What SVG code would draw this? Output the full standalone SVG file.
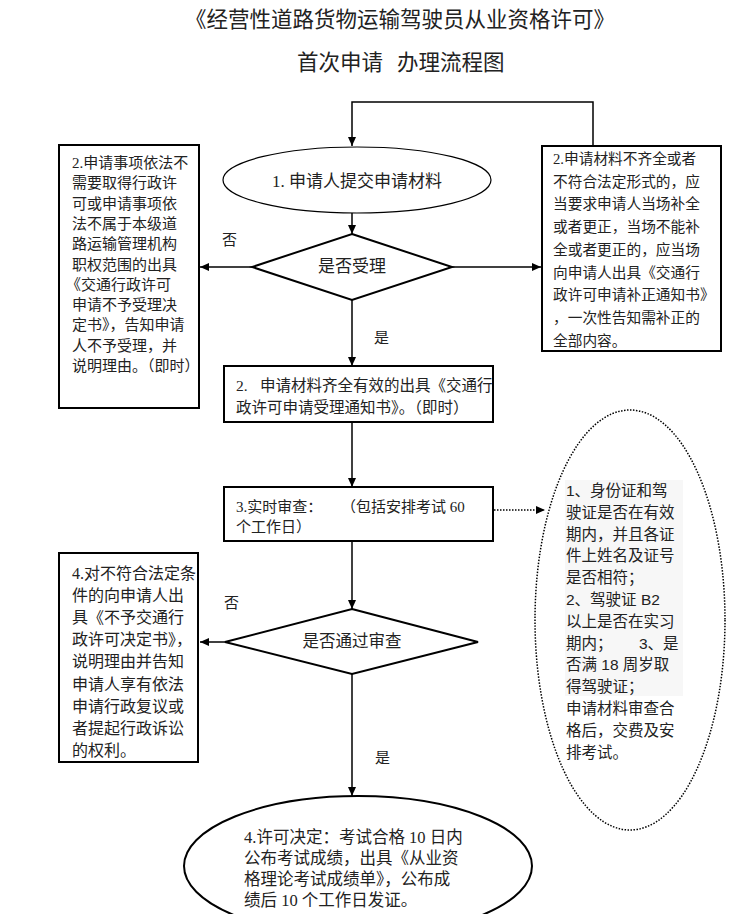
<svg xmlns="http://www.w3.org/2000/svg" width="745" height="914" viewBox="0 0 745 914">
<style>
.t{font-family:"Liberation Serif","Noto Sans CJK SC",serif;fill:#222;dominant-baseline:central}
.s{font-family:"Liberation Sans","Noto Sans CJK SC",sans-serif;fill:#222;dominant-baseline:central}
.title{font-family:"Noto Sans CJK SC",sans-serif;fill:#222;font-size:21.5px;dominant-baseline:central}
.box{fill:#fff;stroke:#000;stroke-width:2}
.dia{fill:#fff;stroke:#000;stroke-width:2}
.ln{fill:none;stroke:#000;stroke-width:1.5}
.dot{fill:none;stroke:#000;stroke-width:1.5;stroke-dasharray:1.5 1.5}
</style>
<defs>
<marker id="ah" markerUnits="userSpaceOnUse" markerWidth="9" markerHeight="8" refX="9" refY="4" orient="auto">
<path d="M0,0 L9,4 L0,8 z" fill="#000"/>
</marker>
</defs>
<rect width="745" height="914" fill="#fff"/>

<g id="title">
<text class="title" x="185" y="17">《经营性道路货物运输驾驶员从业资格许可》</text>
<text class="title" y="60"><tspan x="297">首次申请</tspan><tspan x="397">办理流程图</tspan></text>
</g>

<g id="connectors">
<polyline class="ln" points="593,146 593,102 352,102 352,146" marker-end="url(#ah)"/>
<line class="ln" x1="352" y1="213" x2="352" y2="234" marker-end="url(#ah)"/>
<line class="ln" x1="252" y1="267" x2="200" y2="267" marker-end="url(#ah)"/>
<line class="ln" x1="452" y1="267" x2="541" y2="267" marker-end="url(#ah)"/>
<line class="ln" x1="352" y1="300" x2="352" y2="366" marker-end="url(#ah)"/>
<line class="ln" x1="352" y1="422" x2="352" y2="487" marker-end="url(#ah)"/>
<line class="dot" x1="494" y1="510" x2="545" y2="510" marker-end="url(#ah)"/>
<line class="ln" x1="352" y1="541" x2="352" y2="609" marker-end="url(#ah)"/>
<line class="ln" x1="225" y1="642" x2="200" y2="642" marker-end="url(#ah)"/>
<line class="ln" x1="352" y1="674" x2="352" y2="796" marker-end="url(#ah)"/>
<text class="t" x="222" y="240" font-size="15">否</text>
<text class="t" x="374" y="338" font-size="15">是</text>
<text class="t" x="224" y="603" font-size="15">否</text>
<text class="t" x="375" y="758" font-size="15">是</text>
</g>

<g id="n1">
<ellipse cx="357" cy="180" rx="134" ry="33" fill="#fff" stroke="#000" stroke-width="1.2"/>
<text class="t" x="272" y="181" font-size="17">1. 申请人提交申请材料</text>
</g>

<g id="d1">
<polygon class="dia" points="352,234 452,267 352,300 252,267"/>
<text class="t" x="352" y="266" font-size="17" text-anchor="middle">是否受理</text>
</g>

<g id="left1">
<rect class="box" x="59" y="145" width="140" height="263"/>
<text class="t" font-size="15">
<tspan x="72" y="163">2.申请事项依法不</tspan>
<tspan x="72" y="183.3">需要取得行政许</tspan>
<tspan x="72" y="203.6">可或申请事项依</tspan>
<tspan x="72" y="223.9">法不属于本级道</tspan>
<tspan x="72" y="244.2">路运输管理机构</tspan>
<tspan x="72" y="264.5">职权范围的出具</tspan>
<tspan x="66" y="284.8">《交通行政许可</tspan>
<tspan x="72" y="305.1">申请不予受理决</tspan>
<tspan x="72" y="325.4">定书》，告知申请</tspan>
<tspan x="72" y="345.7">人不予受理，并</tspan>
<tspan x="72" y="366">说明理由。（即时）</tspan>
</text>
</g>

<g id="right1">
<rect class="box" x="542" y="146" width="179" height="205"/>
<text class="t" font-size="14.7">
<tspan x="553" y="159">2.申请材料不齐全或者</tspan>
<tspan x="553" y="181.7">不符合法定形式的，应</tspan>
<tspan x="553" y="204.4">当要求申请人当场补全</tspan>
<tspan x="553" y="227.1">或者更正，当场不能补</tspan>
<tspan x="553" y="249.8">全或者更正的，应当场</tspan>
<tspan x="553" y="272.5">向申请人出具《交通行</tspan>
<tspan x="553" y="295.2">政许可申请补正通知书》</tspan>
<tspan x="553" y="317.9">，一次性告知需补正的</tspan>
<tspan x="553" y="340.6">全部内容。</tspan>
</text>
</g>

<g id="n2">
<rect class="box" x="224" y="366" width="269" height="56"/>
<text class="t" font-size="15.5">
<tspan x="236" y="385">2.</tspan><tspan x="260" y="385">申请材料齐全有效的出具《交通行</tspan>
<tspan x="236" y="407">政许可申请受理通知书》。（即时）</tspan>
</text>
</g>

<g id="n3">
<rect class="box" x="224" y="487" width="269" height="54"/>
<text class="t" font-size="15">
<tspan x="236" y="507">3.实时审查：</tspan><tspan x="341" y="507">（包括安排考试 60</tspan>
<tspan x="236" y="527">个工作日）</tspan>
</text>
</g>

<g id="note">
<ellipse cx="630" cy="620" rx="95" ry="210" fill="none" stroke="#000" stroke-width="1.5" stroke-dasharray="1.5 1.5"/>
<rect x="565" y="480" width="118" height="216" fill="#f7f7f7"/>
<text class="s" font-size="15.5">
<tspan x="566" y="490">1、身份证和驾</tspan>
<tspan x="566" y="511.8">驶证是否在有效</tspan>
<tspan x="566" y="533.6">期内，并且各证</tspan>
<tspan x="566" y="555.4">件上姓名及证号</tspan>
<tspan x="566" y="577.2">是否相符；</tspan>
<tspan x="566" y="599">2、驾驶证 B2</tspan>
<tspan x="566" y="620.8">以上是否在实习</tspan>
<tspan x="566" y="642.6">期内；</tspan><tspan x="639" y="642.6">3、是</tspan>
<tspan x="566" y="664.4">否满 18 周岁取</tspan>
<tspan x="566" y="686.2">得驾驶证；</tspan>
<tspan x="566" y="708">申请材料审查合</tspan>
<tspan x="566" y="729.8">格后，交费及安</tspan>
<tspan x="566" y="751.6">排考试。</tspan>
</text>
</g>

<g id="d2">
<polygon class="dia" points="352,609 478,642 352,674 225,642"/>
<text class="t" x="352" y="641" font-size="16.5" text-anchor="middle">是否通过审查</text>
</g>

<g id="left2">
<rect class="box" x="59" y="553" width="139" height="209"/>
<text class="t" font-size="16">
<tspan x="72" y="573">4.对不符合法定条</tspan>
<tspan x="72" y="595.1">件的向申请人出</tspan>
<tspan x="72" y="617.2">具《不予交通行</tspan>
<tspan x="72" y="639.3">政许可决定书》，</tspan>
<tspan x="72" y="661.4">说明理由并告知</tspan>
<tspan x="72" y="683.5">申请人享有依法</tspan>
<tspan x="72" y="705.6">申请行政复议或</tspan>
<tspan x="72" y="727.7">者提起行政诉讼</tspan>
<tspan x="72" y="749.8">的权利。</tspan>
</text>
</g>

<g id="n4">
<ellipse cx="358" cy="866" rx="174" ry="70" fill="#fff" stroke="#000" stroke-width="2"/>
<text class="t" font-size="16.5">
<tspan x="244" y="837">4.许可决定：考试合格 10 日内</tspan>
<tspan x="244" y="858">公布考试成绩，出具《从业资</tspan>
<tspan x="244" y="879">格理论考试成绩单》，公布成</tspan>
<tspan x="244" y="900">绩后 10 个工作日发证。</tspan>
</text>
</g>
</svg>
